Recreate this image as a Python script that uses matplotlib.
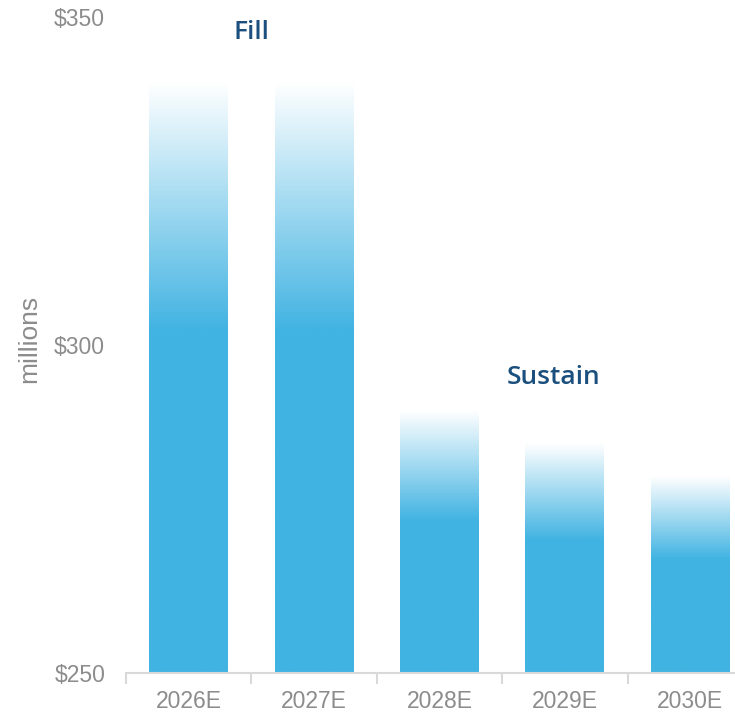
import matplotlib
matplotlib.use("Agg")
import matplotlib.pyplot as plt
import numpy as np
from matplotlib.colors import LinearSegmentedColormap

# ── Data ───────────────────────────────────────────────────────────────────────
years = ["2026E", "2027E", "2028E", "2029E", "2030E"]
values = [340, 340, 290, 285, 280]
y_ticks = [250, 300, 350]
y_tick_labels = ["$250", "$300", "$350"]

# ── Style ──────────────────────────────────────────────────────────────────────
BLUE = "#41B3E2"
GREY = "#8C8C8C"
AXIS = "#D9D9D9"
NAVY = "#1B4F7E"

plt.rcParams["font.family"] = ["Liberation Sans", "DejaVu Sans"]

fig = plt.figure(figsize=(7.35, 7.16), dpi=100)
ax = fig.add_axes([0.1714, 0.060, 0.853, 0.916])

x = np.arange(len(years))
bars = ax.bar(x, values, width=0.63, color="none", linewidth=0, zorder=2)

# gradient: solid in the lower part, fading to white near the top
cmap = LinearSegmentedColormap.from_list(
    "fade", [(0.0, BLUE), (0.58, BLUE), (1.0, "#FFFFFF")]
)
grad = np.linspace(0, 1, 256).reshape(-1, 1)
for b, v in zip(bars, values):
    x0 = b.get_x()
    im = ax.imshow(grad, cmap=cmap, origin="lower", aspect="auto",
                   extent=(x0, x0 + b.get_width(), 250, v),
                   interpolation="bilinear", zorder=2, vmin=0, vmax=1)
    im.set_clip_path(b)
ax.set_xlim(-0.5, len(years) - 0.5)
ax.set_ylim(250, 350)

# axes styling
for s in ["top", "right", "left"]:
    ax.spines[s].set_visible(False)
ax.spines["bottom"].set_color(AXIS)
ax.spines["bottom"].set_linewidth(1.5)

ax.set_xticks(x)
ax.set_xticklabels(years)
ax.set_xticks(np.arange(len(years) + 1) - 0.5, minor=True)
ax.tick_params(axis="x", which="major", length=0, pad=12, labelsize=16.5, labelcolor=GREY)
ax.tick_params(axis="x", which="minor", length=8, width=1.5, color=AXIS, direction="out")

ax.set_yticks(y_ticks)
ax.set_yticklabels(y_tick_labels)
ax.tick_params(axis="y", length=0, pad=15, labelsize=16.5, labelcolor=GREY)
ax.set_ylabel("millions", color=GREY, fontsize=19)
ax.yaxis.set_label_coords(-0.135, 0.51)

# phase labels
ax.text(0.5, 347.7, "Fill", ha="center", va="center", fontsize=19,
        fontweight="semibold", color=NAVY, family=["Open Sans", "DejaVu Sans"])
ax.text(2.91, 295, "Sustain", ha="center", va="center", fontsize=19,
        fontweight="semibold", color=NAVY, family=["Open Sans", "DejaVu Sans"])

fig.savefig("out.png", dpi=100, facecolor="white")
